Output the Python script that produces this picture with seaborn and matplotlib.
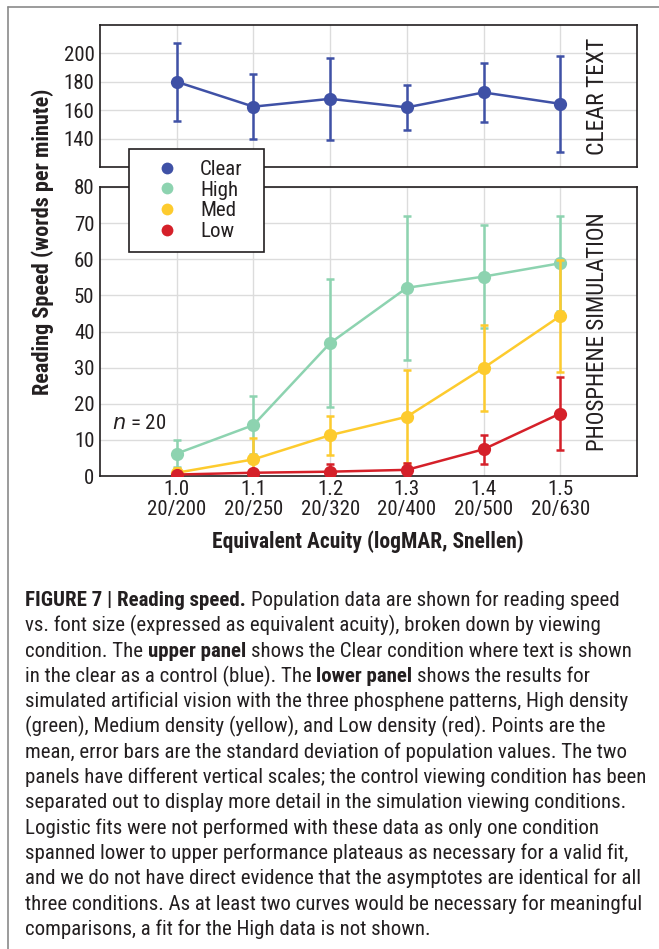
import matplotlib
matplotlib.use("Agg")
import numpy as np
import pandas as pd
import seaborn as sns
import matplotlib.pyplot as plt
from matplotlib.lines import Line2D
from matplotlib.patches import Rectangle
from matplotlib import font_manager

# data (mean and SD, words per minute)
acuity = [1.0, 1.1, 1.2, 1.3, 1.4, 1.5]
snellen = ["20/200", "20/250", "20/320", "20/400", "20/500", "20/630"]

clear_mean = [180, 162.5, 168, 162, 172.5, 164.5]
clear_sd = [27.5, 23, 29, 16, 20.5, 34]

high_mean = [6.2, 14.1, 36.8, 52.1, 55.2, 58.9]
high_sd = [3.7, 8.0, 17.6, 19.9, 14.3, 13.2]
med_mean = [0.9, 4.6, 11.3, 16.4, 29.9, 44.3]
med_sd = [1.4, 5.8, 5.4, 12.9, 11.9, 15.5]
low_mean = [0.4, 0.9, 1.2, 1.7, 7.4, 17.3]
low_sd = [0.5, 0.5, 2.2, 2.0, 4.0, 10.1]

conditions = ["Clear", "High", "Med", "Low"]
colors = {"Clear": "#3f51a6", "High": "#8dd3b0", "Med": "#fdcb2e", "Low": "#d52029"}

caption = [
    [("FIGURE 7 | Reading speed.", True), ("Population data are shown for reading speed", False)],
    [("vs. font size (expressed as equivalent acuity), broken down by viewing", False)],
    [("condition. The", False), ("upper panel", True), ("shows the Clear condition where text is shown", False)],
    [("in the clear as a control (blue). The", False), ("lower panel", True), ("shows the results for", False)],
    [("simulated artificial vision with the three phosphene patterns, High density", False)],
    [("(green), Medium density (yellow), and Low density (red). Points are the", False)],
    [("mean, error bars are the standard deviation of population values. The two", False)],
    [("panels have different vertical scales; the control viewing condition has been", False)],
    [("separated out to display more detail in the simulation viewing conditions.", False)],
    [("Logistic fits were not performed with these data as only one condition", False)],
    [("spanned lower to upper performance plateaus as necessary for a valid fit,", False)],
    [("and we do not have direct evidence that the asymptotes are identical for all", False)],
    [("three conditions. As at least two curves would be necessary for meaningful", False)],
    [("comparisons, a fit for the High data is not shown.", False)],
]


def pick_font():
    names = {f.name for f in font_manager.fontManager.ttflist}
    for n in ["Liberation Sans Narrow", "Roboto Condensed", "Liberation Sans"]:
        if n in names:
            return n
    return "DejaVu Sans"


def long_frame():
    rows = []
    for name, means in [("High", high_mean), ("Med", med_mean), ("Low", low_mean)]:
        for a, m in zip(acuity, means):
            rows.append({"acuity": a, "speed": m, "condition": name})
    return pd.DataFrame(rows)


sns.set_style("white")
FONT = pick_font()
plt.rcParams["font.family"] = [FONT, "DejaVu Sans"]
INK = "#231f20"
W, H = 659, 949
TICK = 15

fig = plt.figure(figsize=(W / 100, H / 100), dpi=100)
ax_top = fig.add_axes([100 / W, 1 - 167 / H, 537 / W, 142 / H])
ax_bot = fig.add_axes([100 / W, 1 - 476 / H, 537 / W, 289 / H])

# upper panel: clear text
ax_top.errorbar(acuity, clear_mean, yerr=clear_sd, fmt="none", ecolor=colors["Clear"],
                elinewidth=1.8, capsize=3.2, capthick=1.8, zorder=3)
sns.lineplot(x=acuity, y=clear_mean, color=colors["Clear"], marker="o", markersize=9.5,
             markeredgewidth=0, linewidth=1.8, ax=ax_top, zorder=4)

# lower panel: phosphene simulation
df = long_frame()
sds = {"High": high_sd, "Med": med_sd, "Low": low_sd}
for i, name in enumerate(["High", "Med", "Low"]):
    sub = df[df.condition == name]
    ax_bot.errorbar(sub.acuity, sub.speed, yerr=sds[name], fmt="none", ecolor=colors[name],
                    elinewidth=1.8, capsize=3.2, capthick=1.8, zorder=3 + 2 * i)
    sns.lineplot(data=sub, x="acuity", y="speed", color=colors[name], marker="o",
                 markersize=9.5, markeredgewidth=0, linewidth=1.8, ax=ax_bot, zorder=4 + 2 * i)

for ax in (ax_top, ax_bot):
    ax.set_xlim(0.9, 1.6)
    ax.set_xticks(acuity)
    ax.grid(True, color="#dcdcdc", linewidth=1)
    ax.set_axisbelow(True)
    ax.set_xlabel("")
    ax.set_ylabel("")
    for s in ax.spines.values():
        s.set_color(INK)
        s.set_linewidth(1.2)
    ax.tick_params(axis="y", length=3, color="#c8c8c8", pad=1, labelsize=TICK, labelcolor=INK)
    ax.tick_params(axis="x", length=0, pad=3, labelsize=TICK, labelcolor=INK)

ax_top.set_ylim(120, 220)
ax_top.set_yticks([140, 160, 180, 200])
ax_top.set_xticklabels([])
ax_bot.set_ylim(0, 80)
ax_bot.set_yticks(range(0, 81, 10))
ax_bot.set_xticklabels([f"{a:.1f}\n{s}" for a, s in zip(acuity, snellen)])
for lab in ax_bot.get_xticklabels():
    lab.set_linespacing(1.05)

ax_top.text(0.927, 0.5, "CLEAR TEXT", transform=ax_top.transAxes, rotation=90,
            ha="center", va="center", fontsize=17, color=INK)
ax_bot.text(0.927, 0.5, "PHOSPHENE SIMULATION", transform=ax_bot.transAxes, rotation=90,
            ha="center", va="center", fontsize=16.5, color=INK)
ax_bot.text(0.022, 0.183, "$\\it{n}$ = 20", transform=ax_bot.transAxes,
            ha="left", va="center", fontsize=15, color=INK)

fig.text(43 / W, 1 - 242 / H, "Reading Speed (words per minute)", rotation=90,
         ha="center", va="center", fontsize=16, fontweight="bold", color=INK)
fig.text(368 / W, 1 - 542 / H, "Equivalent Acuity (logMAR, Snellen)",
         ha="center", va="center", fontsize=15.5, fontweight="bold", color=INK)

# legend: frame drawn as its own box so the padding can match the reference
fig.add_artist(Rectangle((129 / W, 1 - 252 / H), 135 / W, 103 / H, transform=fig.transFigure,
                         facecolor="white", edgecolor=INK, linewidth=1.2, zorder=4))
handles = [Line2D([], [], ls="", marker="o", markersize=8.5, markeredgewidth=0,
                  color=colors[c]) for c in conditions]
leg_fs = 15
fs_px = leg_fs * 100 / 72
hl = 1.0
leg = fig.legend(handles, conditions, loc="center left",
                 bbox_to_anchor=((167 - hl * fs_px / 2) / W, 1 - 200.5 / H),
                 frameon=False, borderaxespad=0, borderpad=0, labelspacing=0.08,
                 handlelength=hl, handletextpad=(200 - 167 - hl * fs_px / 2) / fs_px,
                 fontsize=leg_fs)
leg.set_zorder(5)
for t in leg.get_texts():
    t.set_color(INK)

# page frame
fig.add_artist(Line2D([8 / W, 8 / W], [0, 1 - 7 / H], transform=fig.transFigure,
                      color="#8a8a8a", linewidth=1.2))
fig.add_artist(Line2D([8 / W, 1], [1 - 7 / H, 1 - 7 / H], transform=fig.transFigure,
                      color="#8a8a8a", linewidth=1.2))

# caption with bold runs, size fitted to the longest line
renderer = fig.canvas.get_renderer()


def text_width(s, bold, size):
    t = fig.text(0, 0, s, fontsize=size, fontweight="bold" if bold else "normal")
    w = t.get_window_extent(renderer).width
    t.remove()
    return w


ref_size = 10
space = text_width("x x", False, ref_size) - text_width("xx", False, ref_size)
widest = max(sum(text_width(s, b, ref_size) for s, b in line) + space * (len(line) - 1)
             for line in caption)
cap_size = ref_size * 618 / widest
space = space * cap_size / ref_size

for i, line in enumerate(caption):
    x = 25
    y = 606 + 25.3 * i
    for s, b in line:
        fig.text(x / W, 1 - y / H, s, fontsize=cap_size, fontweight="bold" if b else "normal",
                 color=INK, ha="left", va="baseline")
        x += text_width(s, b, cap_size) + space

fig.savefig("out.png", dpi=100)
